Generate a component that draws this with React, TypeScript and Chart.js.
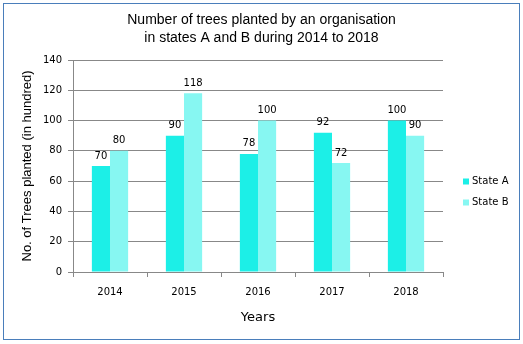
import React, { useEffect, useRef } from "react";
import { Chart, registerables } from "chart.js";

Chart.register(...registerables);

const years = ["2014", "2015", "2016", "2017", "2018"];
const stateA = [70, 90, 78, 92, 100];
const stateB = [80, 118, 100, 72, 90];
const seriesNames = ["State A", "State B"];
const colors = ["#1cefe7", "#87f7f2"];
const titleLines = ["Number of trees planted by an organisation", "in states A and B during 2014 to 2018"];

const frameAndExtras = {
  id: "frameAndExtras",
  beforeDraw(chart: any) {
    const ctx = chart.ctx;
    ctx.save();
    ctx.fillStyle = "#ffffff";
    ctx.fillRect(0, 0, chart.width, chart.height);
    ctx.restore();
  },
  afterDraw(chart: any) {
    const ctx = chart.ctx;
    ctx.save();
    // frame
    ctx.strokeStyle = "#4a7ebb";
    ctx.lineWidth = 1;
    ctx.strokeRect(3.5, 3.5, chart.width - 7, chart.height - 8);
    // title
    ctx.font = "14px 'Liberation Sans', Arial";
    ctx.fillStyle = "#000";
    ctx.textAlign = "center";
    ctx.textBaseline = "middle";
    titleLines.forEach((line, i) => {
      ctx.fillText(line, chart.width / 2, 20 + i * 18);
    });
    // data labels
    ctx.font = "10px 'DejaVu Sans'";
    ctx.textBaseline = "bottom";
    chart.data.datasets.forEach((ds: any, i: number) => {
      const meta = chart.getDatasetMeta(i);
      meta.data.forEach((bar: any, j: number) => {
        ctx.fillText(String(ds.data[j]), bar.x, bar.y - 5);
      });
    });
    // legend
    const area = chart.chartArea;
    const lx = area.right + 20;
    const cy = (area.top + area.bottom) / 2 + 26;
    ctx.textAlign = "left";
    ctx.textBaseline = "middle";
    chart.data.datasets.forEach((ds: any, i: number) => {
      const y = cy - 10.5 + i * 21;
      ctx.fillStyle = ds.backgroundColor;
      ctx.fillRect(lx, y - 3, 6, 6);
      ctx.fillStyle = "#000";
      ctx.fillText(ds.label, lx + 9, y);
    });
    ctx.restore();
  },
};

export default function App() {
  const ref = useRef<HTMLCanvasElement | null>(null);
  useEffect(() => {
    if (!ref.current) return;
    const chart = new Chart(ref.current, {
      type: "bar",
      data: {
        labels: years,
        datasets: [
          { label: seriesNames[0], data: stateA, backgroundColor: colors[0], barPercentage: 1, categoryPercentage: 0.49 },
          { label: seriesNames[1], data: stateB, backgroundColor: colors[1], barPercentage: 1, categoryPercentage: 0.49 },
        ],
      },
      options: {
        animation: false,
        responsive: false,
        maintainAspectRatio: false,
        layout: { padding: { left: 0, top: 60, right: 80, bottom: 0 } },
        plugins: {
          legend: { display: false },
          tooltip: { enabled: false },
          title: { display: false },
        },
        scales: {
          x: {
            grid: { drawOnChartArea: false, drawTicks: true, tickLength: 5, color: "#888", offset: true },
            border: { color: "#888", width: 1 },
            ticks: { color: "#000", font: { family: "'DejaVu Sans'", size: 10 }, padding: 9, maxRotation: 0 },
            title: {
              display: true,
              text: "Years",
              color: "#000",
              font: { family: "'DejaVu Sans'", size: 13 },
              padding: { top: 0, bottom: 19 },
            },
            afterFit(scale: any) {
              scale.height = 72;
            },
          },
          y: {
            min: 0,
            max: 140,
            ticks: { stepSize: 20, color: "#000", font: { family: "'DejaVu Sans'", size: 10 }, padding: 6 },
            grid: { color: "#888", tickLength: 5, drawTicks: true },
            border: { color: "#888", width: 1 },
            title: {
              display: true,
              text: "No. of Trees planted (in hundred)",
              color: "#000",
              font: { family: "'Liberation Sans', Arial", size: 13 },
              padding: { top: 20, bottom: 0 },
            },
            afterFit(scale: any) {
              scale.width = 73;
            },
          },
        },
      },
      plugins: [frameAndExtras],
    });
    return () => chart.destroy();
  }, []);
  return (
    <div style={{ position: "absolute", left: 0, top: 0, width: 523, height: 344 }}>
      <canvas ref={ref} width={523} height={344} style={{ display: "block", width: 523, height: 344 }} />
    </div>
  );
}
